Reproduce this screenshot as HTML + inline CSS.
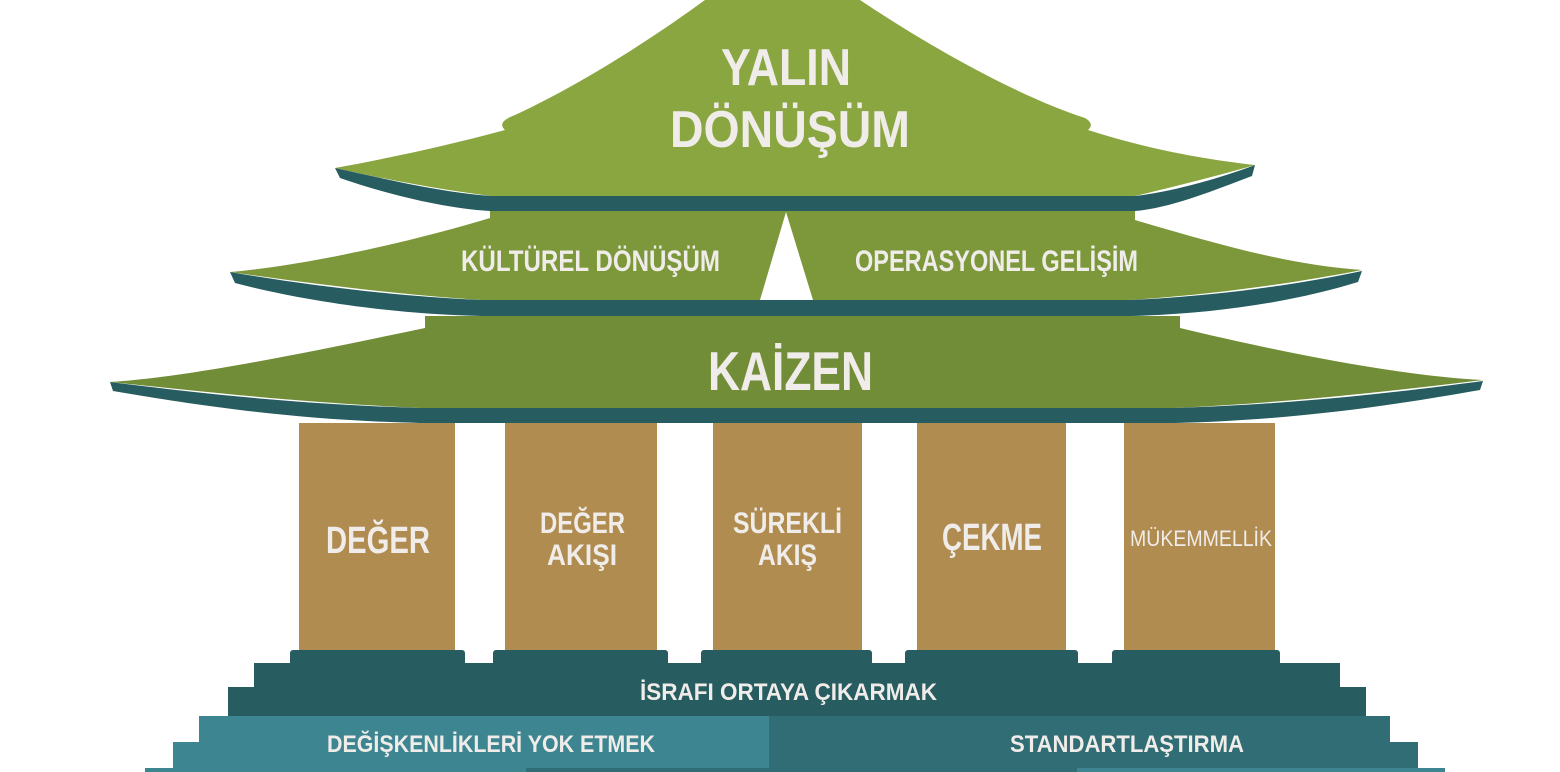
<!DOCTYPE html>
<html><head><meta charset="utf-8"><style>
html,body{margin:0;padding:0;background:#fff;}
svg{display:block;}
text{font-family:"Liberation Sans Narrow","Liberation Sans",sans-serif;font-weight:bold;fill:#efece9;}
</style></head><body>
<svg width="1560" height="772" viewBox="0 0 1560 772" xmlns="http://www.w3.org/2000/svg">
<!-- Tier 1 -->
<path d="M705,0 H860 C950,60 1030,100 1085,118 Q1095,124 1088,130 C1150,150 1210,160 1255,165 C1210,178 1160,190 1135,196 H490 C430,188 380,178 335,168 C390,158 450,145 505,130 Q496,122 515,115 C580,85 650,40 705,0 Z" fill="#8aa640"/>
<path d="M335,168 C390,180 440,192 490,196 H1135 C1170,192 1215,180 1255,165 L1252,176 C1210,192 1170,208 1135,211 H490 C440,208 380,192 340,178 Z" fill="#275c60"/>
<!-- Tier 2 -->
<path d="M490,211 H1135 V220 C1220,245 1290,265 1362,270 C1300,282 1220,294 1130,300 H482 C390,294 300,282 230,272 C300,266 400,245 490,218 Z" fill="#7d983b"/>
<path d="M230,272 C300,284 390,296 482,300 H1130 C1220,296 1300,284 1362,271 L1358,282 C1300,300 1220,314 1130,316 H482 C390,314 300,300 235,283 Z" fill="#275c60"/>
<polygon points="786,212 760,300 813,300" fill="#fff"/>
<!-- Tier 3 -->
<path d="M425,316 H1180 V328 C1280,352 1400,376 1483,380 C1400,390 1300,402 1175,408 H420 C290,402 190,390 110,382 C190,377 310,352 425,328 Z" fill="#728d37"/>
<path d="M110,382 C190,392 290,404 420,408 H1175 C1300,404 1400,392 1483,381 L1480,390 C1400,404 1300,420 1175,423 H420 C290,420 190,404 113,391 Z" fill="#275c60"/>
<!-- Columns -->
<g fill="#b08c50">
<rect x="299" y="423" width="156" height="235"/>
<rect x="505" y="423" width="152" height="235"/>
<rect x="713" y="423" width="149" height="235"/>
<rect x="917" y="423" width="149" height="235"/>
<rect x="1124" y="423" width="151" height="235"/>
</g>
<!-- Steps -->
<g fill="#275c60">
<rect x="290" y="650" width="175" height="20" rx="3"/>
<rect x="493" y="650" width="175" height="20" rx="3"/>
<rect x="701" y="650" width="171" height="20" rx="3"/>
<rect x="905" y="650" width="173" height="20" rx="3"/>
<rect x="1112" y="650" width="168" height="20" rx="3"/>
<rect x="254" y="663" width="1086" height="54"/>
<rect x="228" y="687" width="1138" height="30"/>
</g>
<rect x="199" y="716" width="580" height="56" fill="#3d8590"/>
<rect x="173" y="742" width="606" height="30" fill="#3d8590"/>
<rect x="769" y="716" width="621" height="56" fill="#316d75"/>
<rect x="798" y="742" width="620" height="30" fill="#316d75"/>
<rect x="145" y="768" width="381" height="4" fill="#3d8590"/>
<rect x="526" y="768" width="551" height="4" fill="#316d75"/>
<rect x="1077" y="768" width="368" height="4" fill="#3d8590"/>
<!-- Text -->
<text x="786" y="85" font-size="52" text-anchor="middle" textLength="130" lengthAdjust="spacingAndGlyphs">YALIN</text>
<text x="790" y="147" font-size="52" text-anchor="middle" textLength="240" lengthAdjust="spacingAndGlyphs">DÖNÜŞÜM</text>
<text x="461" y="271" font-size="30" textLength="259" lengthAdjust="spacingAndGlyphs">KÜLTÜREL DÖNÜŞÜM</text>
<text x="855" y="271" font-size="30" textLength="283" lengthAdjust="spacingAndGlyphs">OPERASYONEL GELİŞİM</text>
<text x="708" y="390" font-size="55" textLength="165" lengthAdjust="spacingAndGlyphs">KAİZEN</text>
<text x="326" y="553" font-size="38" textLength="104" lengthAdjust="spacingAndGlyphs">DEĞER</text>
<text x="540" y="533" font-size="30" textLength="85" lengthAdjust="spacingAndGlyphs">DEĞER</text>
<text x="547" y="565" font-size="30" textLength="70" lengthAdjust="spacingAndGlyphs">AKIŞI</text>
<text x="733" y="533" font-size="30" textLength="109" lengthAdjust="spacingAndGlyphs">SÜREKLİ</text>
<text x="758" y="565" font-size="30" textLength="59" lengthAdjust="spacingAndGlyphs">AKIŞ</text>
<text x="942" y="550" font-size="38" textLength="100" lengthAdjust="spacingAndGlyphs">ÇEKME</text>
<text x="1130" y="546" font-size="22" textLength="142" lengthAdjust="spacingAndGlyphs" style="font-weight:normal">MÜKEMMELLİK</text>
<text x="640" y="700" font-size="24" textLength="297" lengthAdjust="spacingAndGlyphs">İSRAFI ORTAYA ÇIKARMAK</text>
<text x="327" y="752" font-size="24" textLength="328" lengthAdjust="spacingAndGlyphs">DEĞİŞKENLİKLERİ YOK ETMEK</text>
<text x="1010" y="752" font-size="24" textLength="234" lengthAdjust="spacingAndGlyphs">STANDARTLAŞTIRMA</text>
</svg>
</body></html>
